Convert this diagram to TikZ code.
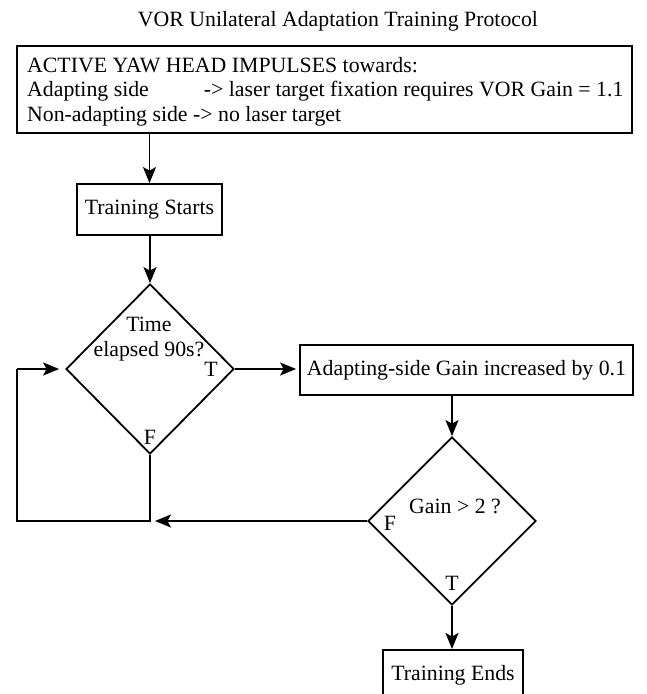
\documentclass[tikz,border=0pt]{standalone}
\usepackage{fontspec}
\setmainfont{Liberation Serif}
\usetikzlibrary{shapes.geometric,arrows.meta}
\tikzset{
  every node/.style={font=\fontsize{21.8}{24.5}\selectfont},
  box/.style={draw,line width=1.8pt,rectangle,inner sep=0pt,minimum height=51pt},
  dia/.style={draw,line width=1.8pt,diamond,inner sep=0pt,minimum width=168pt,minimum height=170pt},
  lbl/.style={inner sep=0pt},
  conn/.style={line width=1.8pt},
  arr/.style={conn,-{Stealth[length=16pt,width=13pt,inset=3.5pt]}}
}
\begin{document}
\begin{tikzpicture}[x=1pt,y=-1pt]
\useasboundingbox (0,0) rectangle (646,694);
\node[lbl] (title) at (338,21) {VOR Unilateral Adaptation Training Protocol};
\node[box,minimum width=615pt,minimum height=87pt] (top) at (324.5,89.5) {};
\node[lbl,anchor=north west,align=left] (toptext) at (27,57) {ACTIVE YAW HEAD IMPULSES towards:\\
Adapting side\hspace{55pt}-> laser target fixation requires VOR Gain = 1.1\\
Non-adapting side -> no laser target};
\node[box,minimum width=145pt] (start) at (149.5,209.5) {Training Starts};
\node[dia] (d1) at (150,369) {};
\node[lbl] (time) at (149,324) {Time};
\node[lbl] (elapsed) at (149,351) {elapsed 90s?};
\node[lbl] (t1) at (211,369) {T};
\node[lbl] (f1) at (150,437) {F};
\node[box,minimum width=333pt,minimum height=50pt] (inc) at (466.5,370) {Adapting-side Gain increased by 0.1};
\node[dia,minimum width=168pt,minimum height=168pt] (d2) at (452,521) {};
\node[lbl] (gain) at (455,506) {Gain > 2 ?};
\node[lbl] (f2) at (390,523) {F};
\node[lbl] (t2) at (452,583) {T};
\node[box,minimum width=140pt,anchor=north] (end) at (453,649) {Training Ends};
\coordinate (join) at (150,521);
\coordinate (lb) at (17,521);
\coordinate (lt) at (17,369);
\draw[arr] (top.south -| start.north) -- (start.north);
\draw[arr] (start.south -| d1.north) -- (d1.north);
\draw[arr,shorten >=3pt] (d1.east) -- (d1.east -| inc.west);
\draw[arr] (d2.north |- inc.south) -- (d2.north);
\draw[arr] (d2.south) -- (d2.south |- end.north);
\draw[arr,shorten >=5pt] (d2.west) -- (join);
\draw[conn] (d1.south) -- (join) -- (lb) -- (lt);
\draw[arr,shorten >=6pt] (lt) -- (d1.west);
\end{tikzpicture}
\end{document}
